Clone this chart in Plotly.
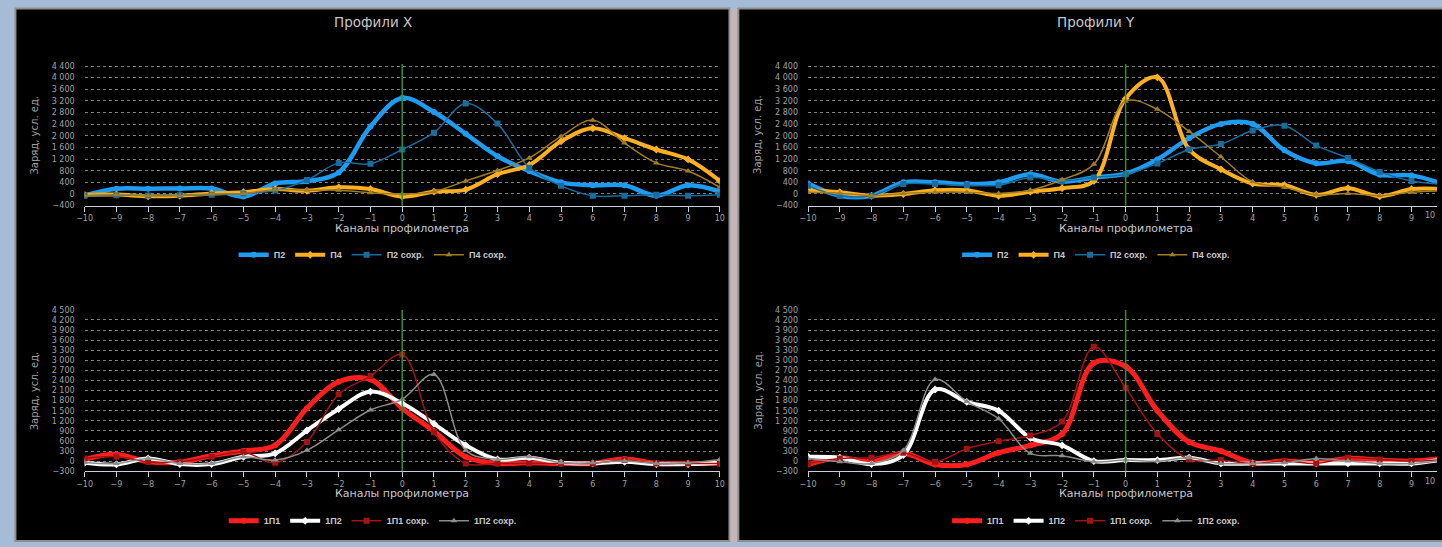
import plotly.graph_objects as go

# Channel numbers of the profilometer
channels = list(range(-10, 11))

# Profile X (charge, arbitrary units)
x_p2 = [-50, 180, 180, 190, 190, -90, 360, 440, 740, 2320, 3300, 2820, 2070, 1300, 790, 400, 300, 300, -60, 300, 80]
x_p4 = [-30, -20, -80, -60, 20, 60, 170, 110, 230, 170, -90, 80, 150, 680, 1000, 1810, 2260, 1920, 1530, 1190, 450]
x_p2_saved = [-60, -40, -50, -40, -30, 20, 120, 480, 1070, 1040, 1530, 2110, 3110, 2420, 900, 280, -60, -60, -30, -60, -30]
x_p4_saved = [-60, -30, -60, -60, 0, 20, 150, 130, 130, 40, 0, 80, 450, 810, 1240, 1980, 2540, 1750, 1070, 790, 230]

# Profile Y
y_p2 = [360, -60, -60, 400, 400, 340, 400, 680, 420, 570, 700, 1190, 1920, 2410, 2410, 1500, 1060, 1130, 660, 640, 340]
y_p4 = [150, 60, -60, 0, 130, 130, -60, 80, 200, 450, 3280, 4010, 1530, 850, 360, 300, -30, 200, -80, 170, 170]
y_p2_saved = [280, -60, -60, 340, 340, 300, 300, 570, 450, 570, 680, 1050, 1530, 1720, 2180, 2350, 1670, 1240, 760, 450, 340]
y_p4_saved = [60, 30, -60, 20, 60, 60, 20, 130, 490, 1020, 3190, 2910, 2150, 1280, 420, 230, -30, 20, -60, 60, 110]

# 1П profiles, X
x_1p1 = [50, 200, -20, -30, 160, 300, 470, 1570, 2360, 2430, 1570, 890, 130, -70, -50, -70, -70, 60, -70, -70, -70]
x_1p2 = [-50, -100, 80, -90, -90, 130, 230, 910, 1550, 2070, 1720, 1110, 470, 50, 100, -50, -70, -20, -90, -90, -50]
x_1p1_saved = [80, 130, -20, -20, 130, 270, -50, 570, 1990, 2530, 3170, 860, -70, -70, -70, -70, -70, 30, -70, -70, -70]
x_1p2_saved = [-40, -70, 80, -70, -70, 130, 30, 320, 930, 1520, 1840, 2580, 320, 50, 130, -50, -50, 0, -70, -50, 50]

# 1П profiles, Y
y_1p1 = [-100, 100, -20, 230, -100, -100, 250, 470, 810, 2920, 2820, 1500, 570, 300, -50, 0, -50, 80, 30, 0, 80]
y_1p2 = [130, 100, -90, 180, 2130, 1760, 1500, 690, 470, 0, 30, 30, 100, -70, -70, -70, -70, -70, -70, -70, 50]
y_1p1_saved = [-70, 80, 100, 250, -20, 370, 590, 760, 1180, 3400, 2180, 810, 50, 30, -70, 0, -70, 100, 50, 0, 50]
y_1p2_saved = [80, -20, -70, 320, 2430, 1770, 1260, 230, 160, -20, 30, 0, 100, -70, -70, -50, 80, 0, -70, -70, 30]

W, H = 1442, 547
FONT = "DejaVu Sans"
TXT = "#c8c8c8"
TICK = "#a0a0a0"

def px(x):
    return x / W

def py(y):
    return 1 - y / H

# plot-area geometry
left_dom = [px(77.3), px(718.3)]
unit = (718.3 - 77.3) / 20.0
right_dom = [px(807.3), 1.0]
right_max = -10 + (W - 807.3) / unit
top_dom = [py(205), py(61)]
bot_dom = [py(475), py(311)]

fig = go.Figure()

def add(xs, ys, name, color, width, symbol, msize, xa, ya, leg):
    fig.add_trace(go.Scatter(
        x=xs, y=ys, name=name, mode="lines+markers",
        line=dict(color=color, width=width, shape="spline", smoothing=1.0),
        marker=dict(symbol=symbol, size=msize, color=color),
        xaxis=xa, yaxis=ya, legend=leg, cliponaxis=True,
    ))

BLUE, ORANGE, TEAL, TAN = "#1e9cf2", "#ffb020", "#1a6c9c", "#a07c24"
RED, WHITE, DRED, GREY = "#ff1e1e", "#ffffff", "#a01414", "#8c8c8c"

add(channels, x_p2, "П2", BLUE, 4.5, "circle", 6, "x", "y", "legend")
add(channels, x_p4, "П4", ORANGE, 4, "diamond", 6, "x", "y", "legend")
add(channels, x_p2_saved, "П2 сохр.", TEAL, 1.5, "square", 6, "x", "y", "legend")
add(channels, x_p4_saved, "П4 сохр.", TAN, 1.5, "triangle-up", 6, "x", "y", "legend")

add(channels, y_p2, "П2", BLUE, 4.5, "circle", 6, "x2", "y2", "legend2")
add(channels, y_p4, "П4", ORANGE, 4, "diamond", 6, "x2", "y2", "legend2")
add(channels, y_p2_saved, "П2 сохр.", TEAL, 1.5, "square", 6, "x2", "y2", "legend2")
add(channels, y_p4_saved, "П4 сохр.", TAN, 1.5, "triangle-up", 6, "x2", "y2", "legend2")

add(channels, x_1p1, "1П1", RED, 5, "circle", 6, "x3", "y3", "legend3")
add(channels, x_1p2, "1П2", WHITE, 4, "diamond", 6, "x3", "y3", "legend3")
add(channels, x_1p1_saved, "1П1 сохр.", DRED, 1.5, "square", 6, "x3", "y3", "legend3")
add(channels, x_1p2_saved, "1П2 сохр.", GREY, 1.5, "triangle-up", 6, "x3", "y3", "legend3")

add(channels, y_1p1, "1П1", RED, 5, "circle", 6, "x4", "y4", "legend4")
add(channels, y_1p2, "1П2", WHITE, 4, "diamond", 6, "x4", "y4", "legend4")
add(channels, y_1p1_saved, "1П1 сохр.", DRED, 1.5, "square", 6, "x4", "y4", "legend4")
add(channels, y_1p2_saved, "1П2 сохр.", GREY, 1.5, "triangle-up", 6, "x4", "y4", "legend4")

def xaxis(dom, rng, anchor):
    return dict(domain=dom, range=rng, anchor=anchor, tick0=-10, dtick=1,
                showgrid=False, zeroline=False, showline=True, linecolor="#c6d0de",
                linewidth=1, ticks="outside", ticklen=5, tickcolor="#c6d0de",
                tickfont=dict(family=FONT, size=8, color=TICK), fixedrange=True)

def yaxis(dom, rng, step, anchor):
    return dict(domain=dom, range=rng, anchor=anchor, tick0=0, dtick=step,
                showgrid=True, gridcolor="#7e7e7e", griddash="3px,3px", gridwidth=1,
                zeroline=False, showline=False, ticks="", tickformat=",d",
                ticklabelstandoff=9,
                tickfont=dict(family=FONT, size=8, color=TICK), fixedrange=True)

legend_common = dict(orientation="h", xanchor="center", yanchor="middle",
                     bgcolor="rgba(0,0,0,0)", itemwidth=30,
                     font=dict(family="Liberation Sans", size=9, color=TXT, weight="bold"))

shapes = [
    # left frame
    dict(type="rect", xref="paper", yref="paper", x0=px(7.5), x1=px(728), y0=py(546), y1=py(4.5),
         fillcolor="#000000", line=dict(color="#8e8e8e", width=2), layer="below"),
    # separator strip
    dict(type="rect", xref="paper", yref="paper", x0=px(729), x1=px(736), y0=0, y1=py(4.5),
         fillcolor="#c4b6b8", line=dict(width=0), layer="below"),
    # right frame
    dict(type="rect", xref="paper", yref="paper", x0=px(737), x1=px(1450), y0=py(546), y1=py(4.5),
         fillcolor="#000000", line=dict(color="#8e8e8e", width=2), layer="below"),
]
for xa, ya in (("x", "y"), ("x2", "y2"), ("x3", "y3"), ("x4", "y4")):
    shapes.append(dict(type="line", xref=xa, yref=ya + " domain", x0=0, x1=0, y0=0, y1=1,
                       line=dict(color="#2f8f2f", width=1.5), layer="above"))

annotations = []
for cx, title in ((368, "Профили X"), (1098, "Профили Y")):
    annotations.append(dict(text=title, x=px(cx), y=py(18), xref="paper", yref="paper",
                            showarrow=False, xanchor="center", yanchor="middle",
                            font=dict(family=FONT, size=13.5, color=TXT)))
for cx in (398, 1128):
    for cy in (228, 498):
        annotations.append(dict(text="Каналы профилометра", x=px(cx), y=py(cy),
                                xref="paper", yref="paper", showarrow=False,
                                xanchor="center", yanchor="middle",
                                font=dict(family=FONT, size=11, color=TXT)))
for cx in (27, 757):
    for cy in (133, 393):
        annotations.append(dict(text="Заряд, усл. ед.", x=px(cx), y=py(cy), textangle=-90,
                                xref="paper", yref="paper", showarrow=False,
                                xanchor="center", yanchor="middle",
                                font=dict(family=FONT, size=10, color=TICK)))
# last tick label of the right-hand axes, kept inside the page edge
for cy in (215, 485):
    annotations.append(dict(text="10", x=1.0, y=py(cy), xref="paper", yref="paper",
                            showarrow=False, xanchor="right", yanchor="middle",
                            font=dict(family=FONT, size=8, color=TICK)))

fig.update_layout(
    width=W, height=H, margin=dict(l=0, r=0, t=0, b=0),
    paper_bgcolor="#a6bbd6", plot_bgcolor="rgba(0,0,0,0)",
    separators=", ", hovermode=False,
    xaxis=xaxis(left_dom, [-10, 10], "y"),
    yaxis=yaxis(top_dom, [-400, 4470], 400, "x"),
    xaxis2=xaxis(right_dom, [-10, right_max], "y2"),
    yaxis2=yaxis(top_dom, [-400, 4470], 400, "x2"),
    xaxis3=xaxis(left_dom, [-10, 10], "y3"),
    yaxis3=yaxis(bot_dom, [-300, 4500], 300, "x3"),
    xaxis4=xaxis(right_dom, [-10, right_max], "y4"),
    yaxis4=yaxis(bot_dom, [-300, 4500], 300, "x4"),
    legend=dict(legend_common, x=px(368), y=py(255)),
    legend2=dict(legend_common, x=px(1098), y=py(255)),
    legend3=dict(legend_common, x=px(368), y=py(525.5)),
    legend4=dict(legend_common, x=px(1098), y=py(525.5)),
    shapes=shapes, annotations=annotations,
    showlegend=True,
)

fig.write_html("out.html")
